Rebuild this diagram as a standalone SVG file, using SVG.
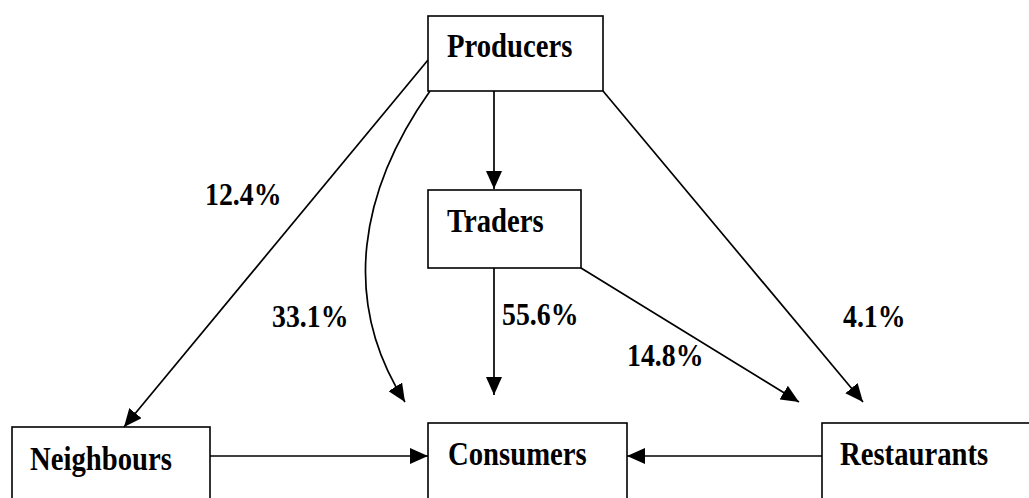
<svg xmlns="http://www.w3.org/2000/svg" width="1029" height="498" viewBox="0 0 1029 498">
<style>
.box{fill:#fff;stroke:#000;stroke-width:1.6}
.lbl{font-family:"Liberation Serif","Times New Roman",serif;font-weight:bold;font-size:28.7px;fill:#000}
.pct{font-family:"Liberation Serif","Times New Roman",serif;font-weight:bold;font-size:27.8px;fill:#000}
.con{fill:none;stroke:#000;stroke-width:1.7}
</style>
<defs>
<marker id="ah" markerUnits="userSpaceOnUse" markerWidth="20" markerHeight="16" refX="18" refY="8" orient="auto">
<path d="M0,0 L18,8 L0,16 Z" fill="#000"/>
</marker>
</defs>
<rect width="1029" height="498" fill="#fff"/>
<g id="connectors">
<line class="con" x1="428" y1="60" x2="124" y2="427" marker-end="url(#ah)"/>
<path class="con" d="M430,91 C360,190 340,300 405,402" marker-end="url(#ah)"/>
<line class="con" x1="494" y1="91" x2="494" y2="189" stroke-width="2.8" marker-end="url(#ah)"/>
<line class="con" x1="494" y1="268" x2="494" y2="395" marker-end="url(#ah)"/>
<line class="con" x1="581" y1="268" x2="799" y2="402" marker-end="url(#ah)"/>
<line class="con" x1="603" y1="91" x2="863" y2="402" marker-end="url(#ah)"/>
<line class="con" x1="210" y1="456" x2="428" y2="456" marker-end="url(#ah)"/>
<line class="con" x1="822" y1="456" x2="627" y2="456" marker-end="url(#ah)"/>
</g>
<g id="producers">
<rect class="box" x="428" y="16" width="175" height="75"/>
<text class="lbl" transform="translate(447,57) scale(1,1.18)">Producers</text>
</g>
<g id="traders">
<rect class="box" x="428" y="190" width="153" height="78"/>
<text class="lbl" transform="translate(447,232) scale(1,1.18)">Traders</text>
</g>
<g id="neighbours">
<rect class="box" x="12" y="427" width="198" height="100"/>
<text class="lbl" transform="translate(30,470) scale(1,1.18)">Neighbours</text>
</g>
<g id="consumers">
<rect class="box" x="428" y="423" width="199" height="100"/>
<text class="lbl" transform="translate(448,465) scale(1,1.18)">Consumers</text>
</g>
<g id="restaurants">
<rect class="box" x="822" y="423" width="230" height="100"/>
<text class="lbl" transform="translate(840,465) scale(1,1.18)">Restaurants</text>
</g>
<g id="labels">
<text class="pct" transform="translate(205,205) scale(1,1.1)">12.4%</text>
<text class="pct" transform="translate(272,327) scale(1,1.1)">33.1%</text>
<text class="pct" transform="translate(502,325) scale(1,1.1)">55.6%</text>
<text class="pct" transform="translate(627,366) scale(1,1.1)">14.8%</text>
<text class="pct" transform="translate(843,327) scale(1,1.1)">4.1%</text>
</g>
</svg>
